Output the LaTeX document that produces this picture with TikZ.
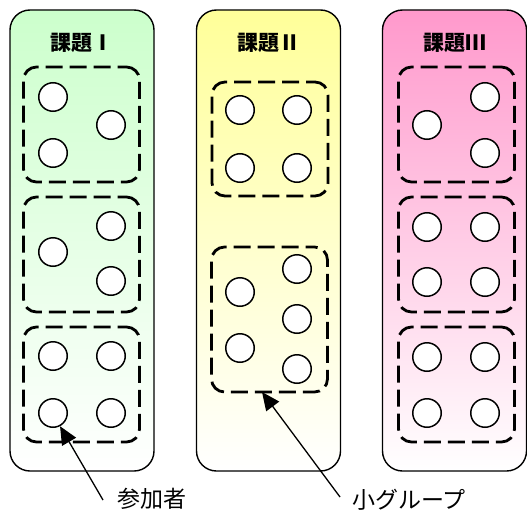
\documentclass[tikz,border=0pt]{standalone}
\usepackage{fontspec}
\newfontfamily\jp{Noto Sans CJK JP}
\usetikzlibrary{arrows.meta}
\definecolor{cA}{HTML}{CCFFCC}
\definecolor{cB}{HTML}{FFFF99}
\definecolor{cC}{HTML}{FF99CC}
\tikzset{
  colbox/.style={draw=black, line width=1.4pt, rounded corners=20pt, minimum width=144pt, minimum height=461pt, inner sep=0pt, bottom color=white},
  grp/.style={draw=black, line width=2.8pt, dash pattern=on 17pt off 7pt, dash phase=8pt, rounded corners=13pt, minimum width=116pt, inner sep=0pt},
  person/.style={circle, draw=black, fill=white, line width=1.5pt, minimum size=28.5pt, inner sep=0pt},
  ttl/.style={font=\jp\bfseries\fontsize{21}{21}\selectfont, inner sep=0pt},
  lbl/.style={font=\jp\fontsize{23}{23}\selectfont, inner sep=0pt},
  pointer/.style={line width=1.3pt, -{Triangle[length=18pt,width=16pt]}}
}
\begin{document}
\begin{tikzpicture}[x=1pt,y=-1pt]
\useasboundingbox (0,0) rectangle (527,511);
% columns
\node[colbox, top color=cA] (c1) at (82,240.5) {};
\node[colbox, top color=cB] (c2) at (268.5,240.5) {};
\node[colbox, top color=cC] (c3) at (454.5,240.5) {};
\node[ttl] (t1) at (82,43) {課題Ⅰ};
\node[ttl] (t2) at (269,43) {課題Ⅱ};
\node[ttl] (t3) at (455,43) {課題Ⅲ};
% column 1 groups
\node[grp, minimum height=115pt] (g11) at (81.5,124.5) {};
\node[grp, minimum height=115pt] (g12) at (81.5,254.5) {};
\node[grp, minimum height=115pt] (g13) at (81.5,384.5) {};
% column 2 groups
\node[grp, minimum height=114pt] (g21) at (270,139) {};
\node[grp, minimum height=145pt] (g22) at (269.5,319.5) {};
% column 3 groups
\node[grp, minimum height=115pt] (g31) at (456.5,124.5) {};
\node[grp, minimum height=115pt] (g32) at (456.5,254.5) {};
\node[grp, minimum height=115pt] (g33) at (456.5,384.5) {};
% column 1 people
\node[person] (p111) at (53,97) {};
\node[person] (p112) at (111,125) {};
\node[person] (p113) at (53,153) {};
\node[person] (p121) at (111,226) {};
\node[person] (p122) at (53,252) {};
\node[person] (p123) at (111,281) {};
\node[person] (p131) at (53,356) {};
\node[person] (p132) at (111,356) {};
\node[person] (p133) at (53,413) {};
\node[person] (p134) at (111,413) {};
% column 2 people
\node[person] (p211) at (240,110) {};
\node[person] (p212) at (297,110) {};
\node[person] (p213) at (240,168) {};
\node[person] (p214) at (297,168) {};
\node[person] (p221) at (240,292) {};
\node[person] (p222) at (240,348) {};
\node[person] (p223) at (297,269) {};
\node[person] (p224) at (297,319) {};
\node[person] (p225) at (297,369) {};
% column 3 people
\node[person] (p311) at (427,125) {};
\node[person] (p312) at (485,97) {};
\node[person] (p313) at (485,153) {};
\node[person] (p321) at (427,227) {};
\node[person] (p322) at (485,227) {};
\node[person] (p323) at (427,282) {};
\node[person] (p324) at (485,282) {};
\node[person] (p331) at (427,357) {};
\node[person] (p332) at (485,357) {};
\node[person] (p333) at (427,413) {};
\node[person] (p334) at (485,413) {};
% labels and pointers
\node[lbl, anchor=west] (l1) at (117,499) {参加者};
\node[lbl, anchor=west] (l2) at (352,500) {小グループ};
\coordinate (s1) at (103,500);
\coordinate (s2) at (340,497);
\coordinate (e2) at (262,392);
\draw[pointer] (s1) -- (p133.-62);
\draw[pointer] (s2) -- (e2);
\end{tikzpicture}
\end{document}
